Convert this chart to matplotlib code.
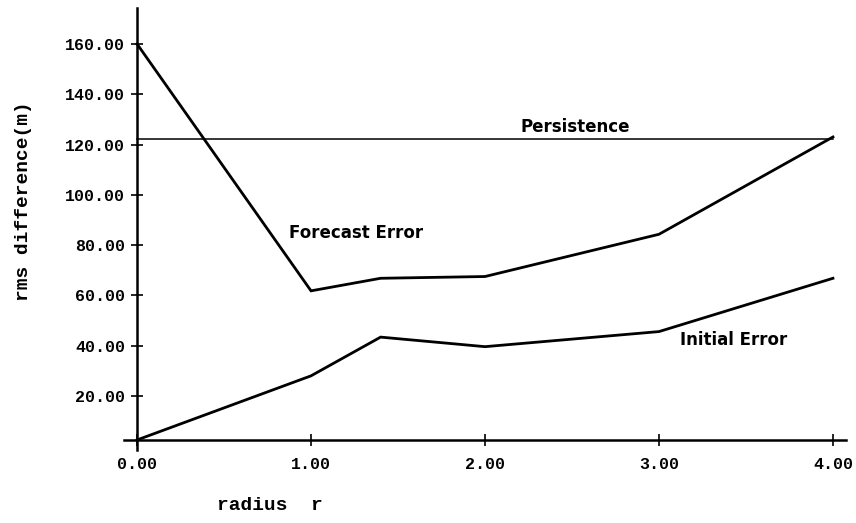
import matplotlib

matplotlib.use("Agg")
import matplotlib.pyplot as plt
from matplotlib.ticker import FormatStrFormatter

# values
radius = [0.0, 1.0, 1.4, 2.0, 3.0, 4.0]
forecast_error = [160.0, 61.8, 66.8, 67.5, 84.3, 123.0]
initial_error = [2.5, 28.0, 43.4, 39.6, 45.6, 66.8]
persistence_r = [0.0, 4.0]
persistence = [122.2, 122.2]

x_ticks = [0, 1, 2, 3, 4]
y_ticks = [20, 40, 60, 80, 100, 120, 140, 160]

mono = "Liberation Mono"

fig = plt.figure(figsize=(8.56, 5.23), dpi=100)
ax = fig.add_axes([124 / 856, 73 / 523, 722 / 856, 442 / 523])

ax.plot(radius, forecast_error, color="black", lw=2.0, solid_joinstyle="miter")
ax.plot(radius, initial_error, color="black", lw=2.0, solid_joinstyle="miter")
ax.plot(persistence_r, persistence, color="black", lw=1.1)

ax.set_xlim(-0.075, 4.075)
ax.set_ylim(-1.5, 174.3)

for side in ["top", "right"]:
    ax.spines[side].set_visible(False)
ax.spines["left"].set_position(("data", 0))
ax.spines["bottom"].set_position(("data", 2.5))
ax.spines["left"].set_linewidth(1.8)
ax.spines["bottom"].set_linewidth(1.8)

ax.set_xticks(x_ticks)
ax.set_yticks(y_ticks)
ax.xaxis.set_major_formatter(FormatStrFormatter("%.2f"))
ax.yaxis.set_major_formatter(FormatStrFormatter("%.2f"))
ax.tick_params(direction="inout", length=9, width=1.2, pad=4)
ax.tick_params(axis="x", pad=8)
for lbl in ax.get_xticklabels() + ax.get_yticklabels():
    lbl.set_fontfamily(mono)
    lbl.set_fontsize(12)
    lbl.set_fontweight("bold")

ax.text(2.52, 127, "Persistence", ha="center", va="center",
        fontsize=12, fontweight="bold", family="DejaVu Sans")
ax.text(1.26, 84.8, "Forecast Error", ha="center", va="center",
        fontsize=12, fontweight="bold", family="DejaVu Sans")
ax.text(3.43, 42.3, "Initial Error", ha="center", va="center",
        fontsize=12, fontweight="bold", family="DejaVu Sans")

fig.text(24 / 856, 1 - 201 / 523, "rms difference(m)", rotation=90,
         ha="center", va="center", fontsize=14, fontweight="bold", family=mono)
fig.text(270 / 856, 1 - 506 / 523, "radius  r", ha="center", va="center",
         fontsize=14, fontweight="bold", family=mono)

fig.savefig("out.png", dpi=100)
